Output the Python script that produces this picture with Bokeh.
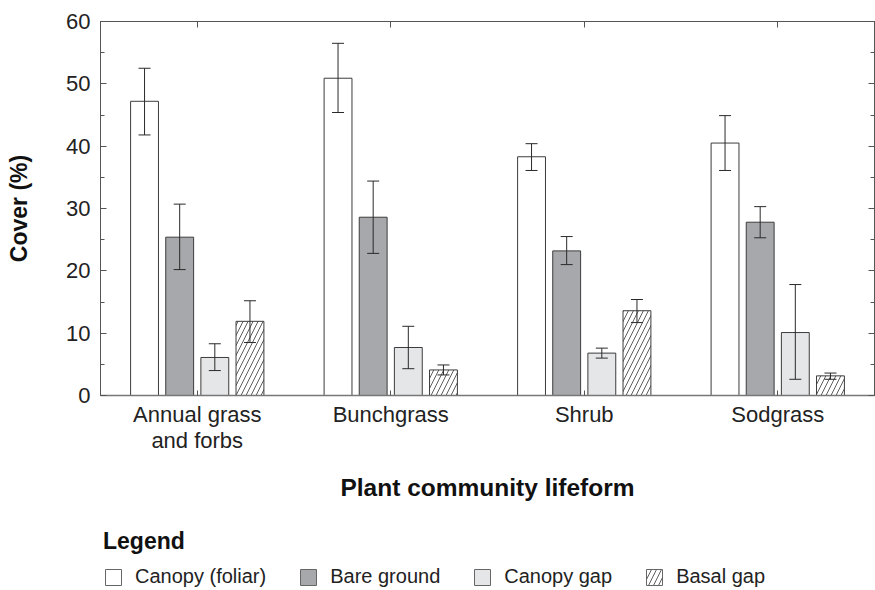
from bokeh.plotting import figure
from bokeh.layouts import column
from bokeh.models import (ColumnDataSource, FactorRange, Range1d, LinearAxis, CategoricalAxis,
                          SingleIntervalTicker, Whisker, TeeHead, Legend, LegendItem)
from bokeh.transform import dodge
from bokeh.embed import file_html
from bokeh.resources import INLINE

# ---- data ----
categories = ["Annual grass\nand forbs", "Bunchgrass", "Shrub", "Sodgrass"]
series_names = ["Canopy (foliar)", "Bare ground", "Canopy gap", "Basal gap"]

canopy = [47.2, 50.9, 38.3, 40.5]
canopy_lo = [41.8, 45.4, 36.1, 36.1]
canopy_hi = [52.5, 56.5, 40.4, 44.9]

bare = [25.4, 28.6, 23.2, 27.8]
bare_lo = [20.2, 22.8, 21.0, 25.3]
bare_hi = [30.7, 34.4, 25.5, 30.3]

gap = [6.1, 7.7, 6.8, 10.1]
gap_lo = [4.0, 4.3, 6.0, 2.6]
gap_hi = [8.3, 11.1, 7.6, 17.8]

basal = [11.9, 4.1, 13.6, 3.15]
basal_lo = [8.5, 3.3, 11.7, 2.6]
basal_hi = [15.2, 4.9, 15.4, 3.6]

y_ticks_interval = 10

# ---- main figure ----
FONT = "Liberation Sans"
TXT = "#222222"
AX = "#555555"

p = figure(width=875, height=510,
           x_range=FactorRange(*categories), y_range=Range1d(0, 60),
           output_backend="svg", toolbar_location=None,
           min_border_left=100, min_border_right=1, min_border_top=21, min_border_bottom=115)
p.xgrid.visible = False
p.ygrid.visible = False
p.outline_line_color = AX
p.background_fill_color = "white"

styles = [
    dict(fill_color="white"),
    dict(fill_color="#a7a8ab"),
    dict(fill_color="#e5e6e7"),
    dict(fill_color="white", hatch_pattern="/", hatch_color="#333333", hatch_scale=10, hatch_weight=0.8),
]
series = [(canopy, canopy_lo, canopy_hi), (bare, bare_lo, bare_hi),
          (gap, gap_lo, gap_hi), (basal, basal_lo, basal_hi)]
step = 0.1816
bar_w = 0.144
for i, ((vals, lo, hi), style) in enumerate(zip(series, styles)):
    off = (i - 1.5) * step
    src = ColumnDataSource(dict(cat=categories, val=vals, lo=lo, hi=hi))
    p.vbar(x=dodge("cat", off, range=p.x_range), top="val", width=bar_w, source=src,
           line_color="#3c3c3c", line_width=1, **style)
    w = Whisker(source=src, base=dodge("cat", off, range=p.x_range), lower="lo", upper="hi",
                line_color="#2a2a2a", line_width=1,
                upper_head=TeeHead(size=12, line_color="#2a2a2a", line_width=1),
                lower_head=TeeHead(size=12, line_color="#2a2a2a", line_width=1))
    w.level = "overlay"
    p.add_layout(w)

# left axis
ya = p.yaxis[0]
ya.ticker = SingleIntervalTicker(interval=y_ticks_interval, num_minor_ticks=2)
ya.major_tick_in = 6
ya.major_tick_out = 0
ya.minor_tick_in = 4
ya.minor_tick_out = 0
ya.major_label_standoff = 10
ya.major_label_text_font = FONT
ya.major_label_text_font_size = "22px"
ya.major_label_text_color = TXT
ya.axis_label = "Cover (%)"
ya.axis_label_text_font = FONT
ya.axis_label_text_font_size = "23px"
ya.axis_label_text_font_style = "bold"
ya.axis_label_text_color = "#111111"
ya.axis_label_standoff = 31
ya.axis_line_color = AX
ya.major_tick_line_color = AX
ya.minor_tick_line_color = AX

# bottom axis
xa = p.xaxis[0]
xa.major_tick_in = 5
xa.major_tick_out = 0
xa.major_label_standoff = 6
xa.major_label_text_font = FONT
xa.major_label_text_font_size = "22px"
xa.major_label_text_line_height = 1.07
xa.major_label_text_color = TXT
xa.axis_label = "Plant community lifeform"
xa.axis_label_text_font = FONT
xa.axis_label_text_font_size = "24.5px"
xa.axis_label_text_font_style = "bold"
xa.axis_label_text_color = "#111111"
xa.axis_label_standoff = 18
xa.axis_line_color = "#777777"
xa.axis_line_width = 1.5
xa.major_tick_line_color = AX

# top axis (ticks only)
ta = CategoricalAxis(major_tick_in=6, major_tick_out=0, major_label_standoff=0,
                     major_label_text_font_size="0px", major_label_text_color=None,
                     axis_line_color=AX, major_tick_line_color=AX)
p.add_layout(ta, "above")

# right axis (ticks only)
ra = LinearAxis(ticker=SingleIntervalTicker(interval=y_ticks_interval, num_minor_ticks=2),
                major_tick_in=6, major_tick_out=0, minor_tick_in=4, minor_tick_out=0,
                major_label_standoff=0, major_label_text_font_size="0px",
                major_label_text_color=None, axis_line_color=AX,
                major_tick_line_color=AX, minor_tick_line_color=AX)
p.add_layout(ra, "right")

# ---- legend strip (separate figure below; its bars lie outside its visible range) ----
lg = figure(width=875, height=80, x_range=FactorRange(*categories), y_range=Range1d(100, 101),
            output_backend="svg", toolbar_location=None,
            x_axis_type=None, y_axis_type=None,
            min_border_left=0, min_border_right=0, min_border_top=0, min_border_bottom=0)
lg.outline_line_color = None
lg.xgrid.visible = False
lg.ygrid.visible = False
items = []
for name, (vals, lo, hi), style in zip(series_names, series, styles):
    r = lg.vbar(x=categories, top=vals, width=0.1, line_color="#666666", line_width=1, **style)
    items.append(LegendItem(label=name, renderers=[r]))

legend = Legend(items=items, orientation="horizontal", location=(3, 2),
                title="Legend", title_text_font=FONT, title_text_font_size="23px",
                title_text_font_style="bold", title_text_color="#111111", title_standoff=10,
                label_text_font=FONT, label_text_font_size="20px", label_text_color=TXT,
                glyph_width=20, glyph_height=20, label_standoff=12, spacing=32,
                padding=0, margin=0, border_line_color=None, background_fill_alpha=0)
lg.add_layout(legend)

layout = column(p, lg, spacing=0)
open("out.html", "w").write(file_html(layout, INLINE))
